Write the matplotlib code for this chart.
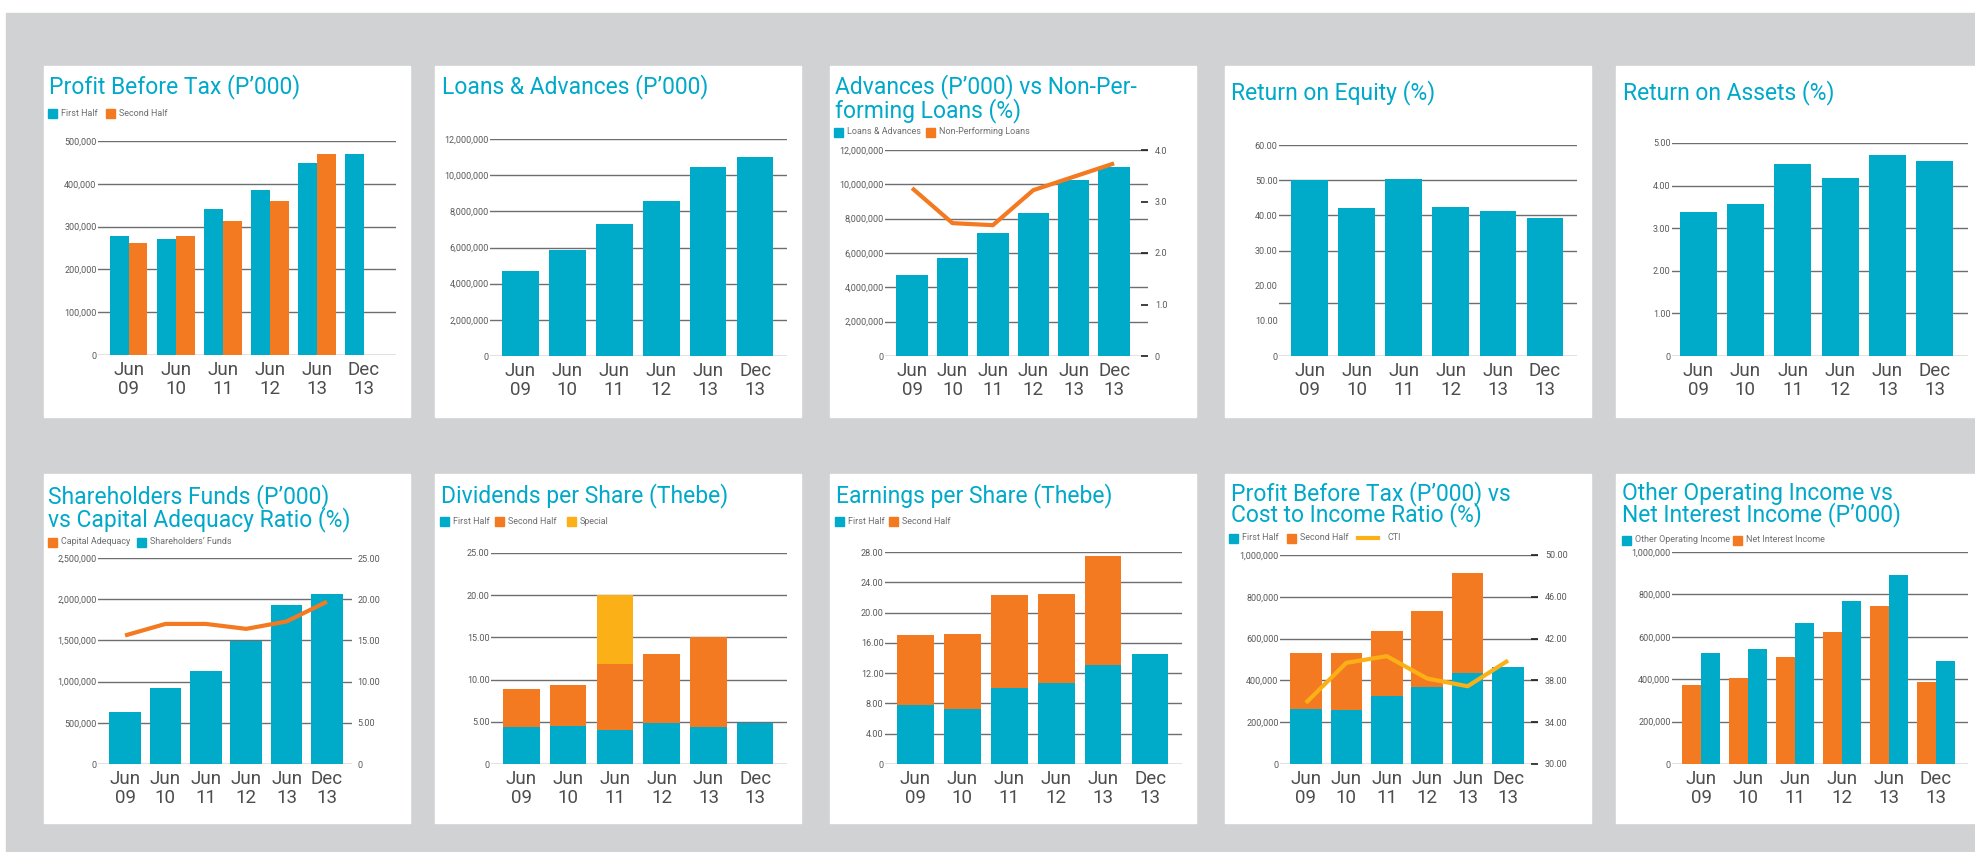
import numpy as np
import matplotlib
matplotlib.use('Agg')
import matplotlib.pyplot as plt
from matplotlib.patches import Rectangle
from matplotlib.lines import Line2D
from matplotlib.ticker import FuncFormatter

plt.rcParams['font.family'] = ['Roboto', 'DejaVu Sans']

W, H = 1975, 852

CYAN = '#00abc9'
ORANGE = '#f37a21'
YELLOW = '#fbb017'
TITLE = '#00a9ca'
TEXT = '#4d4d4f'
TICK = '#58595b'
GRID = '#6d6e71'
BG = '#d1d2d4'

periods = ['Jun\n09', 'Jun\n10', 'Jun\n11', 'Jun\n12', 'Jun\n13', 'Dec\n13']

# Profit before tax (P'000), halves
pbt_first = [278000, 271000, 341000, 386000, 449000, 470000]
pbt_second = [262000, 278000, 313000, 360000, 470000, np.nan]

# Loans & advances (P'000)
loans = [4710000, 5870000, 7310000, 8580000, 10430000, 11020000]

# Advances vs NPL
advances = [4720000, 5710000, 7170000, 8330000, 10250000, 11010000]
npl = [3.26, 2.58, 2.54, 3.22, 3.48, 3.74]

roe = [50.0, 42.1, 50.3, 42.4, 41.2, 39.2]
roa = [3.38, 3.57, 4.51, 4.18, 4.73, 4.58]

# Shareholders funds vs capital adequacy
sh_funds = [634000, 927000, 1129000, 1496000, 1935000, 2065000]
car = [15.6, 17.0, 17.0, 16.4, 17.3, 19.7]

# Dividends per share (thebe)
dps_first = [4.4, 4.5, 4.0, 4.8, 4.4, 4.8]
dps_second = [4.5, 4.85, 7.85, 8.2, 10.6, 0]
dps_special = [0, 0, 8.15, 0, 0, 0]

# Earnings per share (thebe)
eps_first = [7.8, 7.2, 10.05, 10.7, 13.1, 14.55]
eps_second = [9.26, 10.0, 12.3, 11.8, 14.4, 0]

# PBT vs cost to income
pbt2_first = [264000, 259000, 326000, 369000, 436000, 465000]
pbt2_second = [268000, 273000, 311000, 364000, 479000, 0]
cti = [35.85, 39.68, 40.32, 38.18, 37.44, 39.9]

# Other operating income vs net interest income
ooi = [524000, 542000, 665000, 769000, 892000, 486000]
nii = [373000, 404000, 505000, 623000, 745000, 387000]

fig = plt.figure(figsize=(W / 100, H / 100), dpi=100)
fig.patch.set_facecolor('white')


def fx(x):
    return x / W


def fy(y):
    return 1 - y / H


def add_axes(l, t, r, b):
    return fig.add_axes([l / W, 1 - b / H, (r - l) / W, (b - t) / H])


def fmt_func(fmt):
    return FuncFormatter(lambda v, p: '0' if abs(v) < 1e-9 else fmt.format(v))


def style(ax, ymax, step, fmt, grid=None, xlim=(-0.65, 5.68)):
    ax.set_xlim(*xlim)
    ax.set_ylim(0, ymax)
    ticks = np.arange(0, ymax + step / 2, step)
    ax.set_yticks(ticks)
    ax.yaxis.set_major_formatter(fmt_func(fmt))
    ax.set_xticks(range(6))
    ax.set_xticklabels(periods, fontsize=13.5, color=TEXT, linespacing=1.1)
    ax.tick_params(axis='x', length=0, pad=4)
    ax.tick_params(axis='y', length=0, pad=1, labelsize=6.5, labelcolor=TICK)
    for s in ax.spines.values():
        s.set_visible(False)
    ax.set_facecolor('none')
    for g in (ticks if grid is None else grid):
        ax.axhline(g, color=GRID, lw=1.0, zorder=0)


def right_axis(ax, ymin, ymax, step, fmt, tick_len=5, pad=5):
    ax2 = ax.twinx()
    ax2.set_ylim(ymin, ymax)
    ax2.set_yticks(np.arange(ymin, ymax + step / 2, step))
    ax2.yaxis.set_major_formatter(fmt_func(fmt))
    ax2.tick_params(axis='y', length=tick_len, width=1.2, direction='in', color='#231f20',
                    pad=pad, labelsize=6.5, labelcolor=TICK)
    for s in ax2.spines.values():
        s.set_visible(False)
    return ax2


def title(x, y, lines, step=23):
    for i, line in enumerate(lines):
        fig.text(fx(x), fy(y + i * step), line, fontsize=16.5, color=TITLE,
                 va='baseline', ha='left')


def legend(y, items):
    for x, label, color, kind in items:
        if kind == 'box':
            fig.patches.append(Rectangle((fx(x), fy(y + 4.5)), 9 / W, 9 / H, color=color,
                                         transform=fig.transFigure, figure=fig))
            tx = x + 13
        else:
            fig.lines.append(Line2D([fx(x), fx(x + 20)], [fy(y), fy(y)], color=color, lw=3,
                                    transform=fig.transFigure, figure=fig))
            tx = x + 29
        fig.text(fx(tx), fy(y), label, fontsize=6.5, color='#6d6e71', va='center', ha='left')


# background and panels
fig.patches.append(Rectangle((fx(6), 0), 1 - fx(6), fy(13), color=BG, zorder=-10,
                             transform=fig.transFigure, figure=fig))
for (l, r) in [(44, 410), (435, 801), (830, 1196), (1225, 1591), (1616, 1975)]:
    for (t, b) in [(66, 417), (474, 823)]:
        fig.patches.append(Rectangle((fx(l), fy(b)), (r - l) / W, (b - t) / H, color='white',
                                     zorder=-5, transform=fig.transFigure, figure=fig))

x = np.arange(6)
bw = 0.78
hw = 0.4

# 1 Profit before tax
ax = add_axes(98, 141, 396, 355)
style(ax, 500000, 100000, '{:,.0f}')
ax.bar(x - hw / 2, pbt_first, hw, color=CYAN, zorder=2)
ax.bar(x + hw / 2, pbt_second, hw, color=ORANGE, zorder=2)
title(49, 93, ['Profit Before Tax (P\u2019000)'])
legend(113, [(48, 'First Half', CYAN, 'box'), (106, 'Second Half', ORANGE, 'box')])

# 2 Loans & advances
ax = add_axes(490, 139, 787, 356)
style(ax, 12000000, 2000000, '{:,.0f}')
ax.bar(x, loans, bw, color=CYAN, zorder=2)
title(442, 93, ['Loans & Advances (P\u2019000)'])

# 3 Advances vs NPL
ax = add_axes(885, 150, 1148, 356)
style(ax, 12000000, 2000000, '{:,.0f}', xlim=(-0.67, 5.84))
ax.bar(x, advances, bw, color=CYAN, zorder=2)
ax2 = right_axis(ax, 0, 4, 1, '{:.1f}', tick_len=5, pad=5)
ax2.plot(x, npl, color=ORANGE, lw=3, solid_capstyle='butt', zorder=3)
title(835, 93, ['Advances (P\u2019000) vs Non-Per-', 'forming Loans (%)'], step=24)
legend(132, [(834, 'Loans & Advances', CYAN, 'box'), (926, 'Non-Performing Loans', ORANGE, 'box')])

# 4 Return on equity
ax = add_axes(1279, 145, 1577, 356)
style(ax, 60, 10, '{:.2f}', grid=[0, 15.2, 30, 40, 50, 60])
ax.bar(x, roe, bw, color=CYAN, zorder=2)
title(1231, 99, ['Return on Equity (%)'])

# 5 Return on assets
ax = add_axes(1672, 143, 1968, 356)
style(ax, 5, 1, '{:.2f}', xlim=(-0.55, 5.7))
ax.bar(x, roa, bw, color=CYAN, zorder=2)
title(1623, 99, ['Return on Assets (%)'])

# 6 Shareholders funds vs CAR
ax = add_axes(98, 558, 352, 764)
style(ax, 2500000, 500000, '{:,.0f}', xlim=(-0.67, 5.62))
ax.bar(x, sh_funds, bw, color=CYAN, zorder=2)
ax2 = right_axis(ax, 0, 25, 5, '{:.2f}', tick_len=0, pad=4)
ax2.plot(x, car, color=ORANGE, lw=3, solid_capstyle='butt', zorder=3)
title(48, 503, ['Shareholders Funds (P\u2019000)', 'vs Capital Adequacy Ratio (%)'])
legend(542, [(48, 'Capital Adequacy', ORANGE, 'box'), (137, 'Shareholders\u2019 Funds', CYAN, 'box')])

# 7 Dividends per share
ax = add_axes(491, 553, 787, 764)
style(ax, 25, 5, '{:.2f}')
ax.bar(x, dps_first, bw, color=CYAN, zorder=2)
ax.bar(x, dps_second, bw, bottom=dps_first, color=ORANGE, zorder=2)
ax.bar(x, dps_special, bw, bottom=np.add(dps_first, dps_second), color=YELLOW, zorder=2)
title(441, 502, ['Dividends per Share (Thebe)'])
legend(521, [(440, 'First Half', CYAN, 'box'), (495, 'Second Half', ORANGE, 'box'),
             (567, 'Special', YELLOW, 'box')])

# 8 Earnings per share
ax = add_axes(885, 552, 1182, 764)
style(ax, 28, 4, '{:.2f}')
ax.bar(x, eps_first, bw, color=CYAN, zorder=2)
ax.bar(x, eps_second, bw, bottom=eps_first, color=ORANGE, zorder=2)
title(836, 502, ['Earnings per Share (Thebe)'])
legend(521, [(835, 'First Half', CYAN, 'box'), (889, 'Second Half', ORANGE, 'box')])

# 9 PBT vs CTI
ax = add_axes(1280, 555, 1538, 764)
style(ax, 1000000, 200000, '{:,.0f}', xlim=(-0.64, 5.74))
ax.bar(x, pbt2_first, bw, color=CYAN, zorder=2)
ax.bar(x, pbt2_second, bw, bottom=pbt2_first, color=ORANGE, zorder=2)
ax2 = right_axis(ax, 30, 50, 4, '{:.2f}', tick_len=5, pad=5)
ax2.plot(x, cti, color=YELLOW, lw=3, solid_capstyle='butt', zorder=3)
title(1231, 500, ['Profit Before Tax (P\u2019000) vs', 'Cost to Income Ratio (%)'], step=21)
legend(538, [(1229, 'First Half', CYAN, 'box'), (1287, 'Second Half', ORANGE, 'box'),
             (1358, 'CTI', YELLOW, 'line')])

# 10 Other operating income vs NII
ax = add_axes(1672, 552, 1968, 764)
style(ax, 1000000, 200000, '{:,.0f}', xlim=(-0.62, 5.68))
ax.bar(x - hw / 2, nii, hw, color=ORANGE, zorder=2)
ax.bar(x + hw / 2, ooi, hw, color=CYAN, zorder=2)
title(1622, 500, ['Other Operating Income vs', 'Net Interest Income (P\u2019000)'], step=21)
legend(540, [(1622, 'Other Operating Income', CYAN, 'box'), (1733, 'Net Interest Income', ORANGE, 'box')])

fig.savefig('out.png', dpi=100)
